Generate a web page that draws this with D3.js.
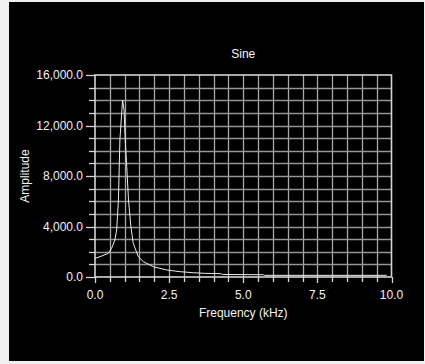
<!DOCTYPE html>
<html><head><meta charset="utf-8">
<script src="https://cdn.jsdelivr.net/npm/d3@7/dist/d3.min.js"></script>
<style>html,body{margin:0;padding:0;background:#f0f0f0;}svg{display:block;}</style>
</head><body>
<script>
const title = "Sine";
const xLabel = "Frequency (kHz)";
const yLabel = "Amplitude";
const frequency = [0, 0.17, 0.45, 0.56, 0.67, 0.73, 0.79, 0.82, 0.84, 0.9, 0.93, 0.98, 1.02, 1.07, 1.13, 1.21, 1.29, 1.46, 1.63, 1.97, 2.42, 2.87, 3.32, 3.7, 4.25, 4.3, 5.68, 5.72, 9.84];
const amplitude = [1480, 1610, 1875, 2270, 2930, 3720, 6100, 9000, 10850, 12970, 14020, 13230, 10850, 8740, 6100, 3990, 2670, 1610, 1215, 815, 555, 420, 340, 290, 260, 200, 180, 130, 130];
const xTicks = [0, 2.5, 5, 7.5, 10];
const yTicks = [0, 4000, 8000, 12000, 16000];

const W = 425, H = 364;
const svg = d3.select("body").append("svg").attr("width", W).attr("height", H);
svg.append("rect").attr("x", 9).attr("y", 2).attr("width", 415).attr("height", 359).attr("fill", "#000");

const m = {l: 95, r: 391.5, t: 75, b: 277};
const x = d3.scaleLinear().domain([0, 10]).range([m.l, m.r]);
const y = d3.scaleLinear().domain([0, 16000]).range([m.b, m.t]);
const font = "Liberation Sans, Arial, sans-serif";

const g = svg.append("g");
// grid
g.selectAll(".vg").data(d3.range(0.5, 10, 0.5)).join("line")
  .attr("x1", d => Math.round(x(d)) + 0.5).attr("x2", d => Math.round(x(d)) + 0.5)
  .attr("y1", m.t).attr("y2", m.b).attr("stroke", "#a8a8a8").attr("stroke-width", 1.3);
g.selectAll(".hg").data(d3.range(1000, 16000, 1000)).join("line")
  .attr("y1", d => Math.round(y(d)) + 0.5).attr("y2", d => Math.round(y(d)) + 0.5)
  .attr("x1", m.l).attr("x2", m.r).attr("stroke", "#959595").attr("stroke-width", 1.3);

// border
g.append("rect").attr("x", m.l).attr("y", m.t).attr("width", m.r - m.l).attr("height", m.b - m.t)
  .attr("fill", "none").attr("stroke", "#d4d4d4").attr("stroke-width", 1.6);

// y ticks (minor/major)
g.selectAll(".yt").data(d3.range(0, 16001, 1000)).join("line")
  .attr("y1", d => Math.round(y(d)) + 0.5).attr("y2", d => Math.round(y(d)) + 0.5)
  .attr("x1", d => d % 4000 === 0 ? m.l - 9 : m.l - 6).attr("x2", m.l)
  .attr("stroke", "#d4d4d4").attr("stroke-width", 1.3);
// x ticks
g.selectAll(".xt").data(d3.range(0, 10.01, 0.5)).join("line")
  .attr("x1", d => Math.round(x(d)) + 0.5).attr("x2", d => Math.round(x(d)) + 0.5)
  .attr("y1", m.b).attr("y2", d => (d % 2.5 === 0) ? m.b + 6 : m.b + 5)
  .attr("stroke", "#d4d4d4").attr("stroke-width", 1.3);

const fmt = d3.format(",.1f");
g.selectAll(".yl").data(yTicks).join("text")
  .attr("x", 83).attr("y", d => y(d)).attr("dy", "0.35em")
  .attr("text-anchor", "end").attr("fill", "#f2f2f2")
  .attr("font-family", font).attr("font-size", 12).text(d => fmt(d));
g.selectAll(".xl").data(xTicks).join("text")
  .attr("x", d => x(d)).attr("y", 299)
  .attr("text-anchor", "middle").attr("fill", "#f2f2f2")
  .attr("font-family", font).attr("font-size", 12).text(d => fmt(d));

// curve
const data = frequency.map((f, i) => ({f, a: amplitude[i]}));
g.append("path").datum(data)
  .attr("d", d3.line().x(d => x(d.f)).y(d => y(d.a)))
  .attr("fill", "none").attr("stroke", "#ededed").attr("stroke-width", 1);

// labels
svg.append("text").attr("x", (m.l + m.r) / 2).attr("y", 58).attr("text-anchor", "middle")
  .attr("fill", "#f5f5f5").attr("font-family", font).attr("font-size", 12).text(title);
svg.append("text").attr("x", (m.l + m.r) / 2).attr("y", 317).attr("text-anchor", "middle")
  .attr("fill", "#f2f2f2").attr("font-family", font).attr("font-size", 12).text(xLabel);
svg.append("text").attr("transform", `translate(29,${(m.t + m.b) / 2}) rotate(-90)`)
  .attr("text-anchor", "middle")
  .attr("fill", "#f2f2f2").attr("font-family", font).attr("font-size", 12).text(yLabel);
</script>
</body></html>
